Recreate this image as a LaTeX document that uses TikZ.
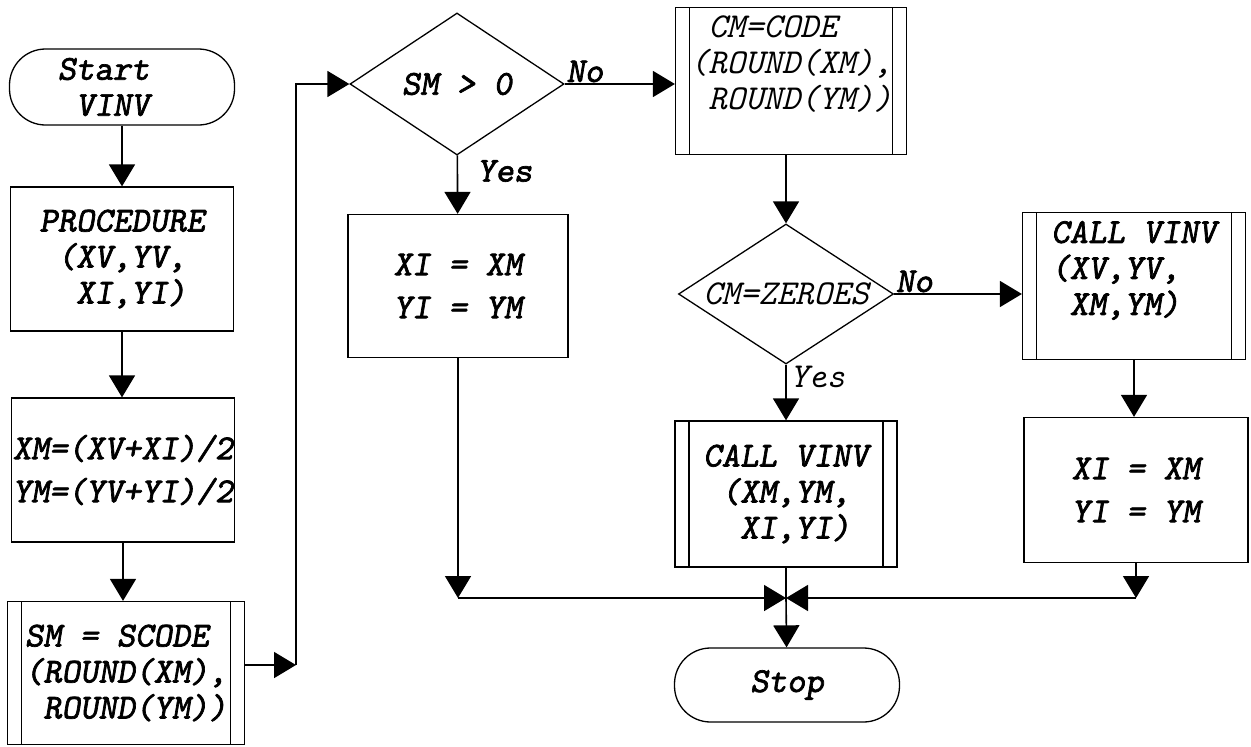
\documentclass[tikz,border=0pt]{standalone}
\usepackage{fontspec}
\usepackage{tikz}
\usetikzlibrary{arrows.meta,positioning,shapes.geometric,calc}

\newfontfamily\typer{lmmonoslant10-regular.otf}[FakeBold=2]
\newcommand\indt{\hphantom{X}}

\begin{document}
\begin{tikzpicture}[
  x=1pt,y=-1pt,
  font=\fontsize{35}{36}\selectfont\typer,
  box/.style={draw,line width=1.3pt,align=left,inner sep=0pt},
  sub/.style={box,path picture={
    \draw[line width=1.3pt] ([xshift=14pt]path picture bounding box.north west) -- ([xshift=14pt]path picture bounding box.south west);
    \draw[line width=1.3pt] ([xshift=-14pt]path picture bounding box.north east) -- ([xshift=-14pt]path picture bounding box.south east);}},
  term/.style={draw,line width=1.3pt,rounded corners=36pt,align=left,inner sep=0pt},
  dec/.style={draw,diamond,shape aspect=1.53,line width=1.3pt,inner sep=0pt},
  lite/.style={font=\fontsize{35}{36}\selectfont\ttfamily\mdseries\itshape},
  arr/.style={-{Triangle[length=22pt,width=26pt]},line width=1.6pt},
  lnk/.style={line width=1.6pt},
  lbl/.style={inner sep=1pt}
]
\fill[white] (0,0) rectangle (1251,747);
\useasboundingbox (0,0) rectangle (1251,747);

% left column
\node[term,minimum width=225,minimum height=76] (start) at (122,87) {Start\indt\indt\\\indt VINV};
\node[box,minimum width=223,minimum height=144] (proc) at (122,259) {PROCEDURE\\\indt(XV,YV,\\\indt\indt XI,YI)};
\node[box,minimum width=223,minimum height=144] (avg) at (123,470) {XM=(XV+XI)/2\\[7pt]YM=(YV+YI)/2};
\node[sub,minimum width=237,minimum height=143] (scode) at (126,673) {SM = SCODE\\(ROUND(XM),\\\indt ROUND(YM))};
\coordinate (lp) at (296,665);

% middle
\node[dec,minimum width=214,minimum height=142] (smpos) at (457,84) {SM > 0};
\node[box,align=center,minimum width=220,minimum height=143] (setl) at (458,286) {XI = XM\\[7pt]YI = YM};
\node[sub,lite,minimum width=231,minimum height=147] (code) at (791,81) {\indt CM=CODE\\(ROUND(XM),\\\indt ROUND(YM))\\\mbox{}};
\node[dec,lite,minimum width=215,minimum height=140] (zero) at (786,294) {CM=ZEROES};
\node[sub,minimum width=222,minimum height=146] (callm) at (786,494) {CALL VINV\\\indt(XM,YM,\\\indt\indt XI,YI)};
\node[term,align=center,minimum width=225,minimum height=74] (stop) at (787,685) {Stop};
\coordinate (mrg) at (786,598);

% right column
\node[sub,minimum width=223,minimum height=147] (callr) at (1134,286) {CALL VINV\\(XV,YV,\\\indt XM,YM)\\\mbox{}};
\node[box,align=center,minimum width=224,minimum height=145] (setr) at (1136,490) {XI = XM\\[7pt]YI = YM};

% connectors
\draw[arr] (start) -- (proc);
\draw[arr] (proc.south) -- (proc.south |- avg.north);
\draw[arr] (avg.south) -- (avg.south |- scode.north);
\draw[arr] (scode.east |- lp) -- (lp);
\draw[arr] (lp) |- (smpos.west);
\draw[arr] (smpos) -- (setl) node[pos=0,lbl,anchor=north west,xshift=18pt,yshift=-3pt] {Yes};
\draw[arr] (smpos.east) -- (smpos.east -| code.west) node[pos=0,lbl,anchor=south west] {No};
\draw[arr] (code.south -| zero.north) -- (zero.north);
\draw[arr] (zero) -- (callm) node[pos=0,lbl,lite,anchor=north west,xshift=2pt] {Yes};
\draw[arr] (zero.east) -- (zero.east -| callr.west) node[pos=0,lbl,anchor=south west] {No};
\draw[arr] (callr.south) -- (callr.south |- setr.north);
\draw[arr] (setl) -- (setl |- mrg);
\draw[arr] (setr) -- (setr |- mrg);
\draw[arr] (setl |- mrg) -- (mrg);
\draw[arr] (setr |- mrg) -- (mrg);
\draw[lnk] (callm) -- (mrg);
\draw[arr] (mrg) -- (stop);
\end{tikzpicture}
\end{document}
